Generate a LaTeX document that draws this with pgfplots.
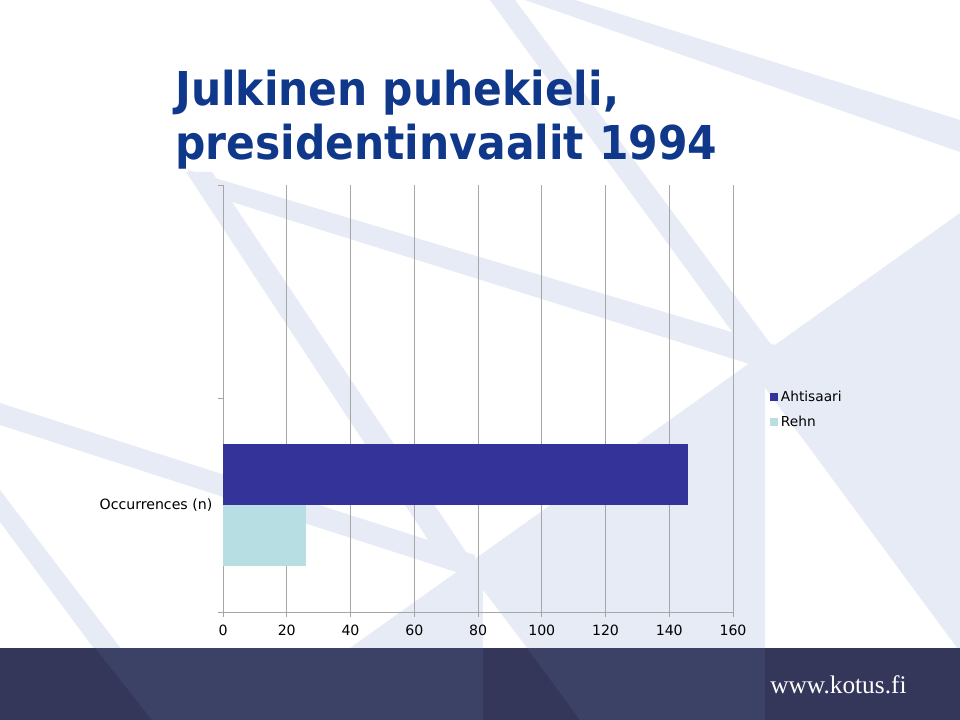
\documentclass[border=0pt]{standalone}
\usepackage{fontspec}
\setmainfont{DejaVu Sans}
\newfontfamily\kotusfont{Liberation Serif}
\newfontfamily\titlefont{DejaVu Sans Bold}[FakeStretch=0.91]
\usepackage{pgfplots}
\pgfplotsset{compat=1.18}
\definecolor{stripe}{HTML}{E7EBF6}
\definecolor{titleblue}{HTML}{10388A}
\definecolor{barA}{HTML}{333399}
\definecolor{barR}{HTML}{B7DEE2}
\definecolor{bandbase}{HTML}{34375A}
\definecolor{bandlight}{HTML}{3C4166}
\definecolor{gridgray}{HTML}{A6A6A6}
\begin{document}
\begin{tikzpicture}
\begin{scope}[x=0.75pt,y=-0.75pt]
\fill[white] (0,0) rectangle (960,720);
% big light region
\fill[stripe] (960,213) -- (960,648) -- (350,648) -- cycle;
\fill[white] (765,388) -- (765,648) -- (957,648) -- cycle;
\fill[white] (483,590) -- (483,648) -- (527,648) -- cycle;
% bands
\fill[stripe] (525,0) -- (575,0) -- (960,120) -- (960,152) -- cycle;
\fill[stripe] (490,0) -- (515,0) -- (790,370) -- (760,370) -- cycle;
\fill[stripe] (188,170) -- (775,345) -- (775,372) -- (200,192) -- cycle;
\fill[stripe] (186,172) -- (212,172) -- (478,570) -- (448,570) -- cycle;
\fill[stripe] (0,403) -- (475,555) -- (475,578) -- (0,425) -- cycle;
\fill[stripe] (0,490) -- (122,650) -- (95,650) -- (0,522) -- cycle;
% bottom band
\fill[bandbase] (0,648) rectangle (960,720);
\fill[bandlight] (95,648) -- (483,648) -- (483,720) -- (152,720) -- cycle;
\fill[bandlight] (527,648) -- (765,648) -- (765,720) -- (580,720) -- cycle;
\node[anchor=base west, inner sep=0pt, text=white, font=\kotusfont\fontsize{19pt}{22pt}\selectfont] at (770,693) {www.kotus.fi};
% title
\node[anchor=base west, inner sep=0pt, text=titleblue, font=\titlefont\fontsize{35pt}{40pt}\selectfont] at (175,106) {Julkinen puhekieli,};
\node[anchor=base west, inner sep=0pt, text=titleblue, font=\titlefont\fontsize{35pt}{40pt}\selectfont] at (175,160) {presidentinvaalit 1994};
\end{scope}
\begin{axis}[
  at={(167.25pt,-459pt)}, anchor=south west,
  scale only axis, width=382.5pt, height=320.25pt,
  xbar, xmin=0, xmax=160, ymin=-0.5, ymax=1.5,
  axis x line*=bottom, axis y line*=left,
  axis line style={draw=gridgray, line width=0.75pt},
  xtick={0,20,...,160},
  ytick={0,1}, yticklabels={Occurrences (n),{}},
  minor ytick={-0.5,0.5,1.5},
  major y tick style={draw=none},
  tick style={draw=gridgray, line width=0.75pt},
  tick align=outside,
  major tick length=3.5pt, minor tick length=3.5pt,
  xmajorgrids, grid style={draw=gridgray, line width=0.75pt},
  /pgf/number format/assume math mode=true,
  ticklabel style={font=\fontsize{10.6pt}{12pt}\selectfont, text=black},
  xticklabel style={yshift=-2.5pt},
  yticklabel style={xshift=-1pt},
  legend style={at={(1.0647,0.5313)}, anchor=north west, draw=none, fill=none,
     font=\fontsize{10.3pt}{12pt}\selectfont, row sep=5.5pt},
  legend cell align=left,
  legend image code/.code={\fill[#1] (0pt,-3pt) rectangle (6pt,3pt);},
]
\addplot[fill=barA, draw=none, bar width=0.2857, bar shift=0.1429] coordinates {(146,0)};
\addplot[fill=barR, draw=none, bar width=0.2857, bar shift=-0.1429] coordinates {(26,0)};
\legend{Ahtisaari, Rehn}
\end{axis}
\end{tikzpicture}
\end{document}
